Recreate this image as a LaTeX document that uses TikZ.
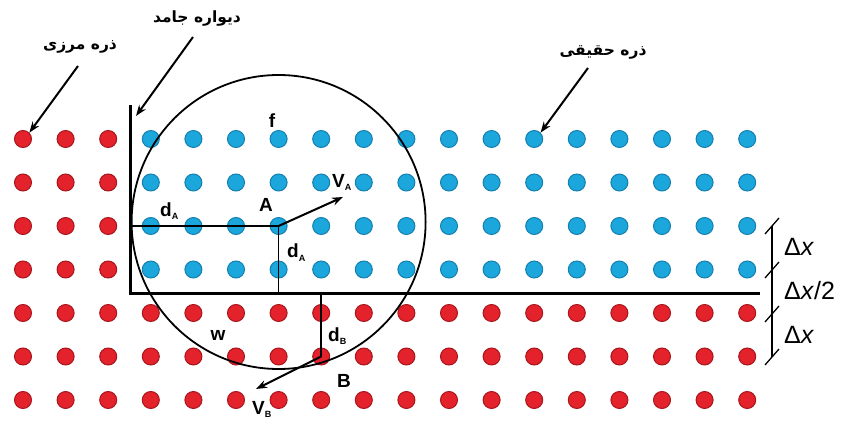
\documentclass[tikz,border=0pt]{standalone}
\usepackage{fontspec}
\setmainfont{Liberation Sans}
\newfontfamily\arabicfont[Script=Arabic]{DejaVu Sans}
\TeXXeTstate=1
\usetikzlibrary{arrows.meta}
\definecolor{bluefill}{HTML}{1BA6DC}
\definecolor{blueedge}{HTML}{1580B0}
\definecolor{redfill}{HTML}{E3222B}
\definecolor{rededge}{HTML}{A8161D}
\begin{document}
\begin{tikzpicture}[x=1pt,y=-1pt,
  dot/.style={circle,minimum size=17pt,inner sep=0pt,line width=1pt},
  bluedot/.style={dot,fill=bluefill,draw=blueedge},
  reddot/.style={dot,fill=redfill,draw=rededge},
  wall/.style={line width=3pt},
  circ/.style={line width=1.8pt},
  dist/.style={line width=2.2pt},
  distthin/.style={line width=1.5pt},
  vel/.style={line width=2pt,-{Stealth[length=11pt,width=8pt]}},
  lblarrow/.style={line width=2pt,-{Stealth[length=11pt,width=8pt]}},
  letter/.style={font=\bfseries\fontsize{19}{19}\selectfont,inner sep=0pt},
  ar/.style={font=\arabicfont\bfseries\fontsize{15.5}{15.5}\selectfont,inner sep=0pt},
  dx/.style={font=\fontsize{25}{25}\selectfont,inner sep=0pt,anchor=west},
  tick/.style={line width=1.3pt}
]
\useasboundingbox (0,0) rectangle (844,425);
% particles
\foreach \j in {0,...,6}{\foreach \i in {0,...,17}{
  \pgfmathtruncatemacro\isblue{(\j<4)&&(\i>2)}
  \ifnum\isblue=1 \def\st{bluedot}\else\def\st{reddot}\fi
  \node[\st] (p-\i-\j) at ({23+42.6*\i},{139+43.5*\j}) {};
}}
% wall
\coordinate (wtop) at (130,105);
\coordinate (wcorner) at (130,293);
\coordinate (wend) at (760,293);
\draw[wall] (wtop) -- (wcorner) -- (wend);
% circle of influence
\draw[circ] ([yshift=4pt]p-6-2.center) circle[radius=147];
% distances
\draw[dist] (p-6-2.center) -- (p-6-2.center -| wcorner);
\draw[distthin] (p-6-2.center) -- (p-6-2.center |- wcorner);
\draw[distthin] (p-7-5.center) -- (p-7-5.center |- wcorner);
% velocities
\coordinate (va) at (343,197);
\coordinate (vb) at (256,389);
\draw[vel] (p-6-2.center) -- (va);
\draw[vel] (p-7-5.center) -- (vb);
% letters
\node[letter] (lA) at (266,205) {A};
\node[letter] (lB) at (344,381) {B};
\node[letter] (lf) at (272,121) {f};
\node[letter] (lw) at (218,335) {w};
\node[letter,anchor=base west] (ldA1) at (160,216) {d\raisebox{-3pt}{\fontsize{9}{9}\selectfont A}};
\node[letter,anchor=base west] (ldA2) at (287,258) {d\raisebox{-3pt}{\fontsize{9}{9}\selectfont A}};
\node[letter,anchor=base west] (ldB) at (328,341) {d\raisebox{-3pt}{\fontsize{9}{9}\selectfont B}};
\node[letter,anchor=base west] (lVA) at (332,188) {V\raisebox{-3pt}{\fontsize{9}{9}\selectfont A}};
\node[letter,anchor=base west] (lVB) at (252,414) {V\raisebox{-3pt}{\fontsize{9}{9}\selectfont B}};
% Arabic labels
\node[ar] (tb) at (80,47) {\beginR ذره مرزی\endR};
\node[ar] (tw) at (197,19) {\beginR دیواره جامد\endR};
\node[ar] (tr) at (603,52) {\beginR ذره حقیقی\endR};
\coordinate (sb) at (78,66);
\coordinate (sw) at (193,37);
\coordinate (sr) at (588,68);
\coordinate (wtip) at (136,116);
\draw[lblarrow] (sb) -- (p-0-0.north east);
\draw[lblarrow] (sw) -- (wtip);
\draw[lblarrow] (sr) -- (p-12-0.north east);
% Delta x bracket
\coordinate (b0) at (772,226);
\coordinate (b1) at (772,270);
\coordinate (b2) at (772,314);
\coordinate (b3) at (772,357);
\draw[tick] (b0) -- (b3);
\foreach \b in {b0,b1,b2,b3}{\draw[tick] ([shift={(-7,8)}]\b) -- ([shift={(7,-8)}]\b);}
\node[dx] (dx1) at (784,247) {Δ\textit{x}};
\node[dx] (dx2) at (784,291) {Δ\textit{x}/2};
\node[dx] (dx3) at (784,335) {Δ\textit{x}};
\end{tikzpicture}
\end{document}
